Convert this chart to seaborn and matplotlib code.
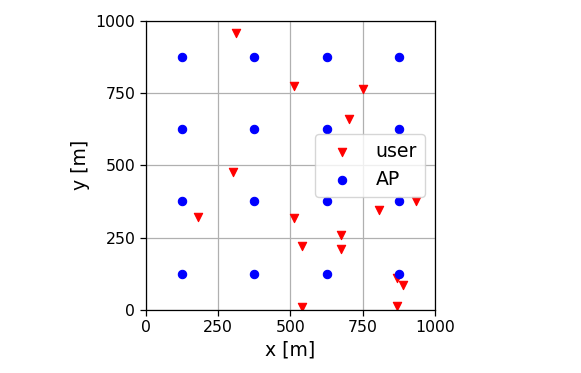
import matplotlib
matplotlib.use("Agg")
import matplotlib.pyplot as plt
import seaborn as sns
import pandas as pd

# user positions
user_x = [311, 513, 752, 702, 301, 182, 512, 805, 933, 539, 674, 674, 539, 870, 888, 868]
user_y = [958, 774, 765, 659, 476, 323, 319, 344, 376, 222, 258, 211, 9, 12, 85, 110]

# access points on a regular 4x4 grid
ap_x = [125, 375, 625, 875, 125, 375, 625, 875, 125, 375, 625, 875, 125, 375, 625, 875]
ap_y = [125, 125, 125, 125, 375, 375, 375, 375, 625, 625, 625, 625, 875, 875, 875, 875]

ticks = [0, 250, 500, 750, 1000]

users = pd.DataFrame({"x": user_x, "y": user_y})
aps = pd.DataFrame({"x": ap_x, "y": ap_y})

fig = plt.figure(figsize=(5.81, 3.73), dpi=100)
ax = fig.add_axes([0.2508, 0.169, 0.498, 0.7756])

sns.scatterplot(data=users, x="x", y="y", ax=ax, marker="v", color="red",
                edgecolor="red", linewidth=0.8, s=36, label="user", zorder=2)
sns.scatterplot(data=aps, x="x", y="y", ax=ax, marker="o", color="blue",
                edgecolor="blue", linewidth=0.8, s=36, label="AP", zorder=2)

ax.set_xlim(0, 1000)
ax.set_ylim(0, 1000)
ax.set_xticks(ticks)
ax.set_yticks(ticks)
ax.set_aspect("equal")
ax.set_axisbelow(True)
ax.grid(True, color="#b0b0b0", linewidth=0.9)
ax.tick_params(labelsize=11.3, width=0.9, length=4)
for s in ax.spines.values():
    s.set_linewidth(0.9)
ax.set_xlabel("x [m]", fontsize=13.6)
ax.set_ylabel("y [m]", fontsize=13.6)
ax.legend(loc="center right", fontsize=13.6, borderaxespad=0.55)

fig.savefig("out.png", dpi=100)
